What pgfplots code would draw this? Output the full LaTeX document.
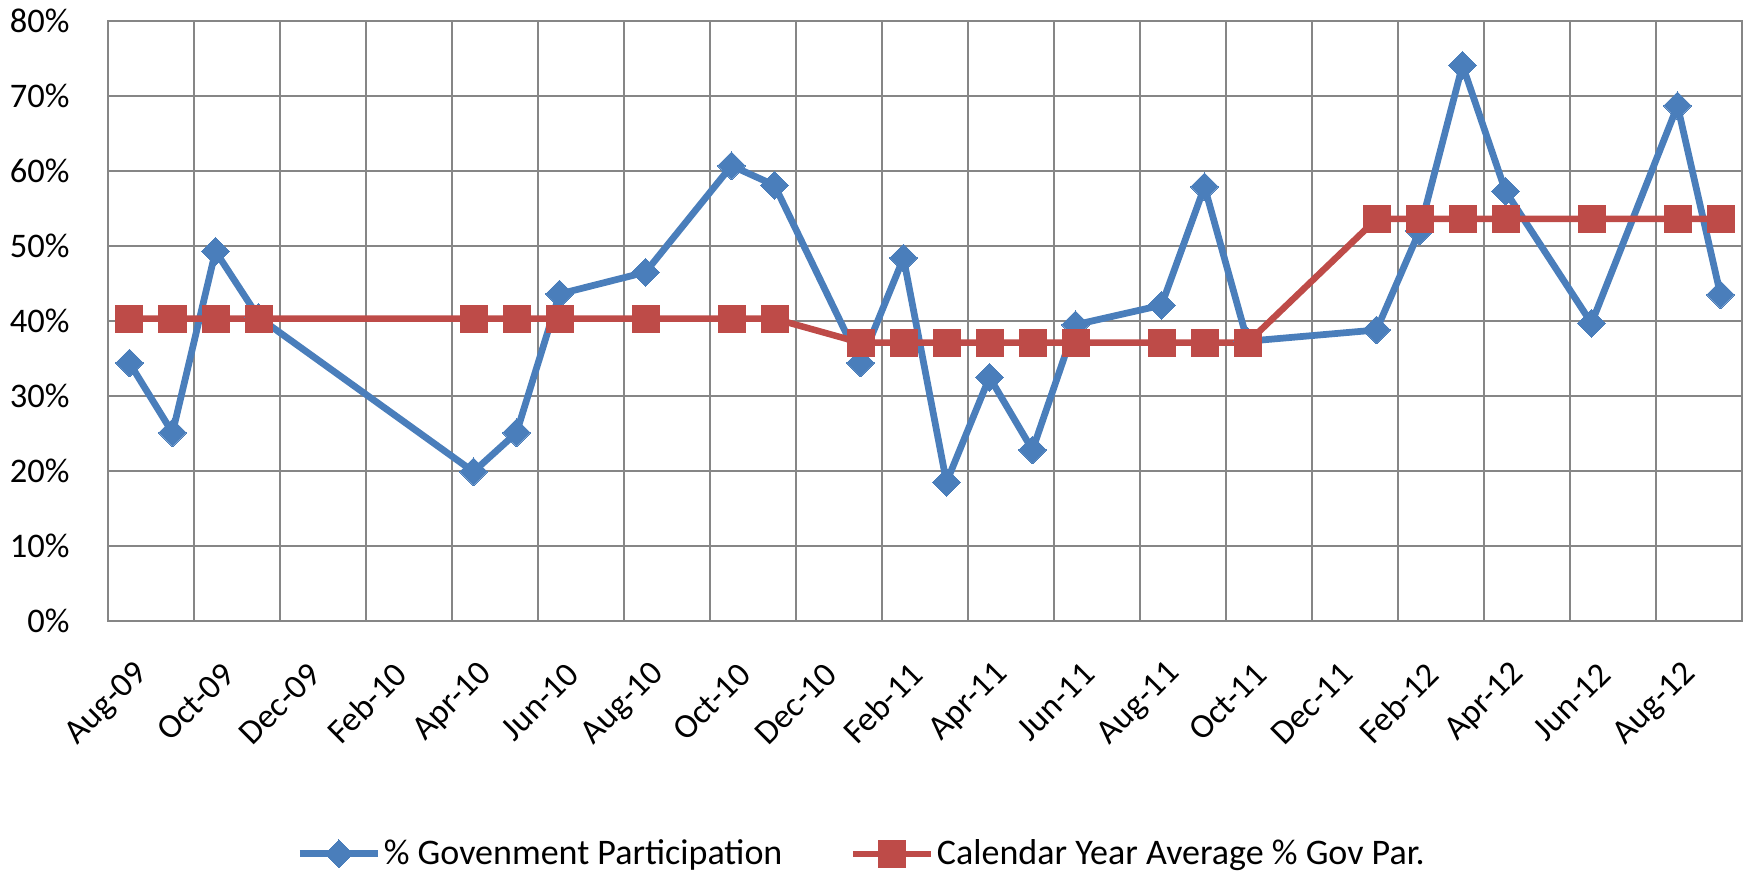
\documentclass[border=0pt]{standalone}
\usepackage{pgfplots}
\pgfplotsset{compat=1.18}
\usepackage{fontspec}
\setmainfont{Carlito}
\definecolor{gblue}{HTML}{4A7EBB}
\definecolor{gred}{HTML}{BE4B48}
\definecolor{ggrid}{HTML}{868686}
\begin{document}
\begin{tikzpicture}
\begin{axis}[
  scale only axis, width=653.6pt, height=240pt,
  xmin=0, xmax=38, ymin=0, ymax=80,
  xtick={0,2,...,36},
  xticklabels={Aug-09,Oct-09,Dec-09,Feb-10,Apr-10,Jun-10,Aug-10,Oct-10,Dec-10,Feb-11,Apr-11,Jun-11,Aug-11,Oct-11,Dec-11,Feb-12,Apr-12,Jun-12,Aug-12},
  ytick={0,10,...,80},
  yticklabels={0\%,10\%,20\%,30\%,40\%,50\%,60\%,70\%,80\%},
  grid=major, major grid style={ggrid, line width=0.8pt},
  axis line style={ggrid, line width=0.8pt},
  tick style={draw=none},
  font=\fontsize{13.8}{16}\selectfont,
  xticklabel style={font=\fontsize{13.8}{16}\selectfont, inner sep=0pt, xshift=14pt, yshift=-19pt, rotate=45, anchor=east},
  yticklabel style={inner sep=0pt, xshift=-15.2pt, anchor=east},
  clip=false,
  legend columns=2,
  legend style={at={(0.4614,-0.388)}, anchor=center, draw=none, fill=none,
    font=\fontsize{14.4}{17}\selectfont,
    /tikz/every even column/.append style={column sep=26pt},
    nodes={inner sep=1pt}},
  legend image code/.code={\draw[mark repeat=2, mark phase=2, #1] plot coordinates {(0pt,0pt) (15.6pt,0pt) (31.2pt,0pt)};},
]
\addplot[gblue, line width=2.7pt, mark=square*, mark size=3.9pt, mark options={rotate=45, solid, line width=0pt, fill=gblue, draw=gblue}] coordinates {
(0.5,34.4) (1.5,25.1) (2.5,49.3) (3.5,40.5) (8.5,19.9) (9.5,25.1) (10.5,43.6)
(12.5,46.5) (14.5,60.7) (15.5,58.1) (17.5,34.4) (18.5,48.4) (19.5,18.5)
(20.5,32.5) (21.5,22.8) (22.5,39.5) (24.5,42.1) (25.5,57.9) (26.5,37.3)
(29.5,38.8) (30.5,52.0) (31.5,74.1) (32.5,57.3) (34.5,39.7) (36.5,68.7) (37.5,43.5)
};
\addlegendentry{\% Govenment Participation}
\addplot[gred, line width=2.6pt, mark=square*, mark size=5.4pt, mark options={solid, line width=0.4pt, fill=gred, draw=gred}] coordinates {
(0.5,40.3) (1.5,40.3) (2.5,40.3) (3.5,40.3) (8.5,40.3) (9.5,40.3) (10.5,40.3)
(12.5,40.3) (14.5,40.3) (15.5,40.3) (17.5,37.1) (18.5,37.1) (19.5,37.1)
(20.5,37.1) (21.5,37.1) (22.5,37.1) (24.5,37.1) (25.5,37.1) (26.5,37.1)
(29.5,53.6) (30.5,53.6) (31.5,53.6) (32.5,53.6) (34.5,53.6) (36.5,53.6) (37.5,53.6)
};
\addlegendentry{Calendar Year Average \% Gov Par.}
\coordinate (ll) at (rel axis cs:0,0);
\coordinate (ur) at (rel axis cs:1,1);
\end{axis}
\pgfresetboundingbox
\path ([xshift=-43.2pt,yshift=-102pt]ll) rectangle ([xshift=0.4pt,yshift=8.4pt]ur);
\end{tikzpicture}
\end{document}
